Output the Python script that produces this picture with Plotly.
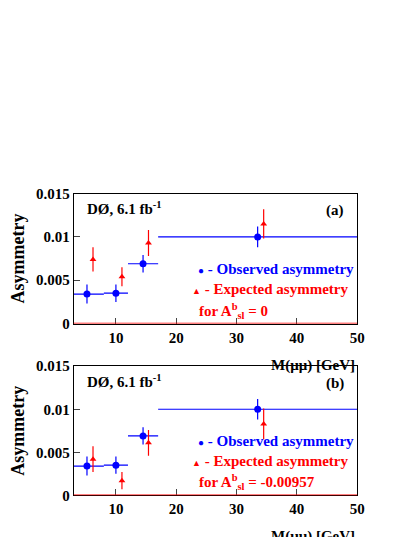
import plotly.graph_objects as go

# observed asymmetry (same in both panels)
obs_x = [5.2, 10.0, 14.5, 33.5]
obs_xlo = [3.0, 8.0, 12.0, 17.0]
obs_xhi = [8.0, 12.0, 17.0, 50.0]
obs_y = [0.0034, 0.0035, 0.0069, 0.0100]
obs_err = [0.0011, 0.0010, 0.0010, 0.0012]

# expected asymmetry
exp_x = [6.2, 11.0, 15.4, 34.5]
exp_a_y = [0.0074, 0.0054, 0.0093, 0.0115]
exp_a_err = [0.0014, 0.0011, 0.0015, 0.0017]
exp_b_y = [0.0042, 0.0017, 0.0061, 0.0083]
exp_b_err = [0.0015, 0.0010, 0.0015, 0.0018]

W, H = 415, 537
FONT = "Liberation Serif"
BLUE, RED = "#0000ff", "#ff0000"

fig = go.Figure()
panels = [("", exp_a_y, exp_a_err, "(a)", "for A<sup>b</sup><sub>sl</sub> = 0"),
          ("2", exp_b_y, exp_b_err, "(b)", "for A<sup>b</sup><sub>sl</sub> = -0.00957")]
for ax, ey, ee, tag, note in panels:
    fig.add_trace(go.Scatter(
        x=obs_x, y=obs_y, mode="markers", xaxis="x" + ax, yaxis="y" + ax,
        marker=dict(color=BLUE, size=7),
        error_y=dict(array=obs_err, color=BLUE, thickness=1.2, width=0),
        error_x=dict(type="data", symmetric=False,
                     array=[h - x for h, x in zip(obs_xhi, obs_x)],
                     arrayminus=[x - l for l, x in zip(obs_xlo, obs_x)],
                     color=BLUE, thickness=1.2, width=0)))
    fig.add_trace(go.Scatter(
        x=exp_x, y=ey, mode="markers", xaxis="x" + ax, yaxis="y" + ax,
        marker=dict(color=RED, size=6, symbol="triangle-up"),
        error_y=dict(array=ee, color=RED, thickness=1.2, width=0)))
    xr = "x" + ax + " domain"
    yr = "y" + ax + " domain"
    fig.add_annotation(text="DØ, 6.1 fb<sup>-1</sup>", xref=xr, yref=yr, x=0.04, y=0.97,
                       xanchor="left", yanchor="top", showarrow=False, font=dict(size=15))
    fig.add_annotation(text="(a)" if tag == "(a)" else "(b)", xref=xr, yref=yr, x=0.96, y=0.95,
                       xanchor="right", yanchor="top", showarrow=False, font=dict(size=15))
    fig.add_annotation(text="<span style='font-size:10px'>●</span> - Observed asymmetry",
                       xref=xr, yref=yr, x=0.995, y=0.42,
                       xanchor="right", yanchor="middle", showarrow=False,
                       font=dict(size=15, color=BLUE))
    fig.add_annotation(text="<span style='font-size:9px'>▲</span> - Expected asymmetry",
                       xref=xr, yref=yr, x=0.975, y=0.265,
                       xanchor="right", yanchor="middle", showarrow=False,
                       font=dict(size=15, color=RED))
    fig.add_annotation(text=note, xref=xr, yref=yr, x=0.435, y=0.1,
                       xanchor="left", yanchor="middle", showarrow=False,
                       font=dict(size=15, color=RED))
    fig.add_annotation(text="M(μμ) [GeV]", xref=xr, yref=yr, x=1.0, y=-0.24,
                       xanchor="right", yanchor="top", showarrow=False, font=dict(size=15))

xdom = [67 / W, 356 / W]
axis_x = dict(range=[3, 50], domain=xdom, showline=True, linecolor="black", mirror=True,
              tickvals=[10, 20, 30, 40, 50], ticks="inside", ticklen=6, showgrid=False,
              zeroline=False, tickfont=dict(size=15))
axis_y = dict(range=[0, 0.015], showline=True, linecolor="black", mirror=True,
              tickvals=[0, 0.005, 0.01, 0.015], ticktext=["0", "0.005", "0.01", "0.015"],
              ticks="inside", ticklen=6, showgrid=False, zeroline=False,
              title=dict(text="Asymmetry", standoff=6), tickfont=dict(size=15))

fig.update_layout(
    width=W, height=H, showlegend=False,
    margin=dict(l=0, r=0, t=0, b=0),
    paper_bgcolor="white", plot_bgcolor="white",
    font=dict(family=FONT, size=15, color="black", weight="bold"),
    xaxis=dict(axis_x, anchor="y"),
    yaxis=dict(axis_y, domain=[(H - 317) / H, (H - 183) / H], anchor="x"),
    xaxis2=dict(axis_x, anchor="y2"),
    yaxis2=dict(axis_y, domain=[(H - 494) / H, (H - 361) / H], anchor="x2"),
)
fig.add_hline(y=0, line=dict(color=RED, width=1.5), xref="x", yref="y")
fig.add_shape(type="line", xref="x2 domain", yref="y2", x0=0, x1=1, y0=0, y1=0,
              line=dict(color=RED, width=1.5))
fig.write_html("out.html")
